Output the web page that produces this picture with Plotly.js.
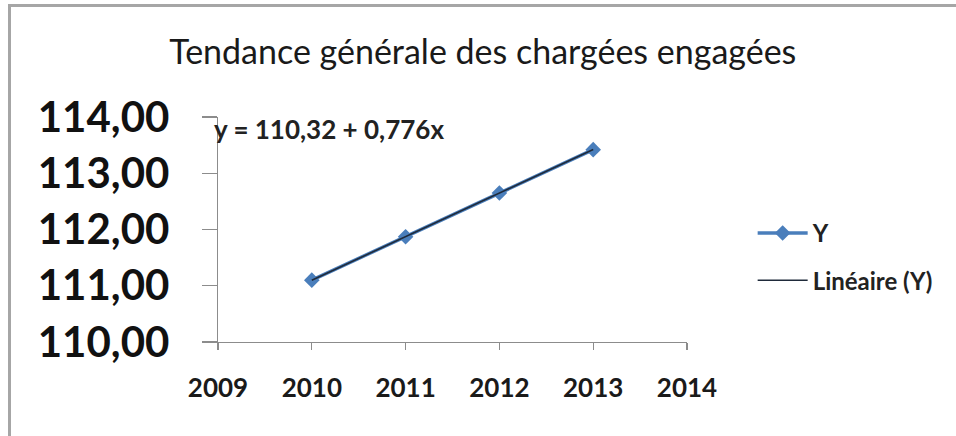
<!DOCTYPE html>
<html>
<head>
<meta charset="utf-8">
<script src="https://cdn.plot.ly/plotly-3.0.1.min.js"></script>
<style>
html,body{margin:0;padding:0;background:#fff;}
#wrap{position:absolute;left:0;top:0;width:956px;height:436px;overflow:hidden;}
#frame{position:absolute;left:8px;top:4px;width:1000px;height:1000px;border-top:3px solid #a6a6a6;border-left:3px solid #a6a6a6;box-sizing:border-box;pointer-events:none;z-index:5;}
#chart{position:absolute;left:0;top:0;width:956px;height:436px;}
</style>
</head>
<body>
<div id="wrap"><div id="chart"></div><div id="frame"></div></div>
<script>
// Data
var years = [2010, 2011, 2012, 2013];
var values = [111.10, 111.87, 112.65, 113.42];
var xTicks = [2009, 2010, 2011, 2012, 2013, 2014];
var yTicks = [110, 111, 112, 113, 114];
var yTickLabels = ['110,00', '111,00', '112,00', '113,00', '114,00'];
var titleText = 'Tendance générale des chargées engagées';
var seriesName = 'Y';
var trendName = 'Linéaire (Y)';
var equationText = 'y = 110,32 + 0,776x';

// least-squares trend over index 1..n
var n = values.length;
var idx = values.map(function(_, i){ return i + 1; });
var mx = idx.reduce(function(a,b){return a+b;},0)/n;
var my = values.reduce(function(a,b){return a+b;},0)/n;
var sxy = 0, sxx = 0;
for (var i = 0; i < n; i++) { sxy += (idx[i]-mx)*(values[i]-my); sxx += (idx[i]-mx)*(idx[i]-mx); }
var slope = sxy/sxx, intercept = my - slope*mx;
var trend = idx.map(function(k){ return intercept + slope*k; });

var FONT = 'Lato, "Open Sans", sans-serif';

var traces = [
  {x: years, y: values, name: seriesName, type: 'scatter', mode: 'lines+markers',
   legendgroup: 'a',
   line: {color: '#4a7ebb', width: 3.5},
   marker: {symbol: 'diamond', size: 12, color: '#4a7ebb'}},
  {x: years, y: trend, name: trendName, type: 'scatter', mode: 'lines',
   legendgroup: 'b',
   line: {color: '#1f2a3a', width: 1.6}}
];

var layout = {
  width: 956, height: 436,
  margin: {l: 218, r: 269, t: 117, b: 94},
  paper_bgcolor: '#ffffff', plot_bgcolor: '#ffffff',
  showlegend: true,
  title: {text: titleText, x: 0.505, xanchor: 'center', y: 0.88, yanchor: 'middle',
          font: {family: FONT, size: 34, color: '#1a1a1a'}},
  xaxis: {range: [2009, 2014], tickvals: xTicks, ticktext: xTicks.map(String),
          showgrid: false, zeroline: false, showline: true, linecolor: '#8c8c8c', linewidth: 1.2,
          ticks: 'outside', ticklen: 7, tickcolor: '#8c8c8c', tickwidth: 1.2, ticklabelstandoff: 16,
          tickfont: {family: FONT, size: 26, color: '#1a1a1a', weight: 'bold'}},
  yaxis: {range: [110, 114], tickvals: yTicks, ticktext: yTickLabels,
          showgrid: false, zeroline: false, showline: true, linecolor: '#8c8c8c', linewidth: 1.2,
          ticks: 'outside', ticklen: 15, tickcolor: '#8c8c8c', tickwidth: 1.2, ticklabelstandoff: 24,
          tickfont: {family: FONT, size: 42, color: '#111111', weight: 'bold'}},
  legend: {x: 1.14, xanchor: 'left', y: 0.378, yanchor: 'middle',
           font: {family: FONT, size: 24, color: '#222222', weight: 'bold'},
           bgcolor: 'rgba(0,0,0,0)', itemwidth: 50, tracegroupgap: 13},
  annotations: [{xref: 'paper', yref: 'paper', x: -0.012, y: 0.945, xanchor: 'left', yanchor: 'middle',
                 text: equationText, showarrow: false,
                 font: {family: FONT, size: 26, color: '#222222', weight: 'bold'}}]
};

Plotly.newPlot('chart', traces, layout, {displayModeBar: false, staticPlot: true});
</script>
</body>
</html>
